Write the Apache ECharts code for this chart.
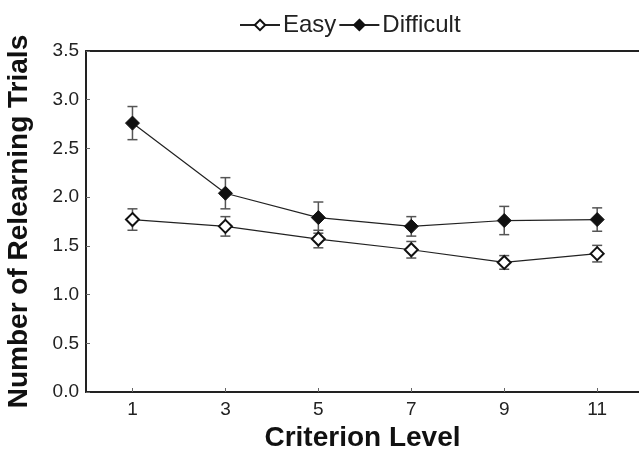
<!DOCTYPE html>
<html>
<head>
<meta charset="utf-8">
<script src="https://cdn.jsdelivr.net/npm/echarts@6/dist/echarts.min.js"></script>
<style>html,body{margin:0;padding:0;background:#fff}#c{width:639px;height:455px}</style>
</head>
<body>
<div id="c"></div>
<script>
var criterionLevels = [1, 3, 5, 7, 9, 11];
var easyMeans = [1.77, 1.70, 1.57, 1.46, 1.33, 1.42];
var easyErr = [0.11, 0.10, 0.09, 0.085, 0.07, 0.085];
var difficultMeans = [2.76, 2.04, 1.79, 1.70, 1.76, 1.77];
var difficultErr = [0.17, 0.16, 0.16, 0.10, 0.145, 0.12];

function pts(means) { return criterionLevels.map(function (x, i) { return [x, means[i]]; }); }
function errPts(means, errs) { return criterionLevels.map(function (x, i) { return [x, means[i] - errs[i], means[i] + errs[i]]; }); }

function errRender(params, api) {
  var x = api.value(0);
  var lo = api.coord([x, api.value(1)]);
  var hi = api.coord([x, api.value(2)]);
  var hw = 5;
  var st = { stroke: '#555', lineWidth: 1.5 };
  return {
    type: 'group',
    children: [
      { type: 'line', shape: { x1: lo[0], y1: lo[1], x2: hi[0], y2: hi[1] }, style: st },
      { type: 'line', shape: { x1: lo[0] - hw, y1: lo[1], x2: lo[0] + hw, y2: lo[1] }, style: st },
      { type: 'line', shape: { x1: hi[0] - hw, y1: hi[1], x2: hi[0] + hw, y2: hi[1] }, style: st }
    ]
  };
}

var chart = echarts.init(document.getElementById('c'), null, { renderer: 'canvas' });
var font = 'Liberation Sans, Arial, Helvetica, sans-serif';
chart.setOption({
  animation: false,
  textStyle: { fontFamily: font },
  grid: { left: 86, right: 0, top: 51, bottom: 63, containLabel: false, outerBoundsMode: 'none' },
  legend: {
    left: 234, top: 8,
    itemWidth: 40, itemHeight: 13, itemGap: 2,
    textStyle: { fontSize: 24, color: '#222', fontFamily: font, padding: [0, 0, 0, -2] },
    data: ['Easy', 'Difficult']
  },
  xAxis: [{
    type: 'value', min: 0, max: 11.9,
    name: 'Criterion Level', nameLocation: 'middle', nameGap: 28,
    nameTextStyle: { fontSize: 28, fontWeight: 'bold', color: '#111', fontFamily: font },
    axisLine: { show: true, lineStyle: { color: '#222', width: 2 } },
    axisTick: { show: true, inside: true, length: 4, lineStyle: { color: '#666' }, customValues: criterionLevels },
    axisLabel: { fontSize: 19, color: '#222', margin: 8, customValues: criterionLevels },
    splitLine: { show: false }
  }, {
    type: 'value', min: 0, max: 11.9, position: 'top',
    axisLine: { show: true, lineStyle: { color: '#222', width: 2 } },
    axisTick: { show: false }, axisLabel: { show: false }, splitLine: { show: false }
  }],
  yAxis: {
    type: 'value', min: 0, max: 3.5, interval: 0.5,
    name: 'Number of Relearning Trials', nameLocation: 'middle', nameGap: 53,
    nameTextStyle: { fontSize: 28, fontWeight: 'bold', color: '#111', fontFamily: font },
    axisLine: { show: true, lineStyle: { color: '#222', width: 2 } },
    axisTick: { show: true, inside: true, length: 4, lineStyle: { color: '#666' } },
    axisLabel: { fontSize: 19, color: '#222', margin: 7, formatter: function (v) { return v.toFixed(1); } },
    splitLine: { show: false }
  },
  series: [
    { type: 'custom', renderItem: errRender, data: errPts(easyMeans, easyErr), encode: { x: 0, y: [1, 2] }, z: 1, silent: true },
    { type: 'custom', renderItem: errRender, data: errPts(difficultMeans, difficultErr), encode: { x: 0, y: [1, 2] }, z: 1, silent: true },
    {
      name: 'Easy', type: 'line', data: pts(easyMeans), z: 3,
      symbol: 'diamond', symbolSize: 13, showAllSymbol: true,
      lineStyle: { color: '#222', width: 1.2 },
      itemStyle: { color: '#fff', borderColor: '#111', borderWidth: 2 }
    },
    {
      name: 'Difficult', type: 'line', data: pts(difficultMeans), z: 3,
      symbol: 'diamond', symbolSize: 14, showAllSymbol: true,
      lineStyle: { color: '#222', width: 1.2 },
      itemStyle: { color: '#111', borderColor: '#111', borderWidth: 1 }
    }
  ]
});
</script>
</body>
</html>
